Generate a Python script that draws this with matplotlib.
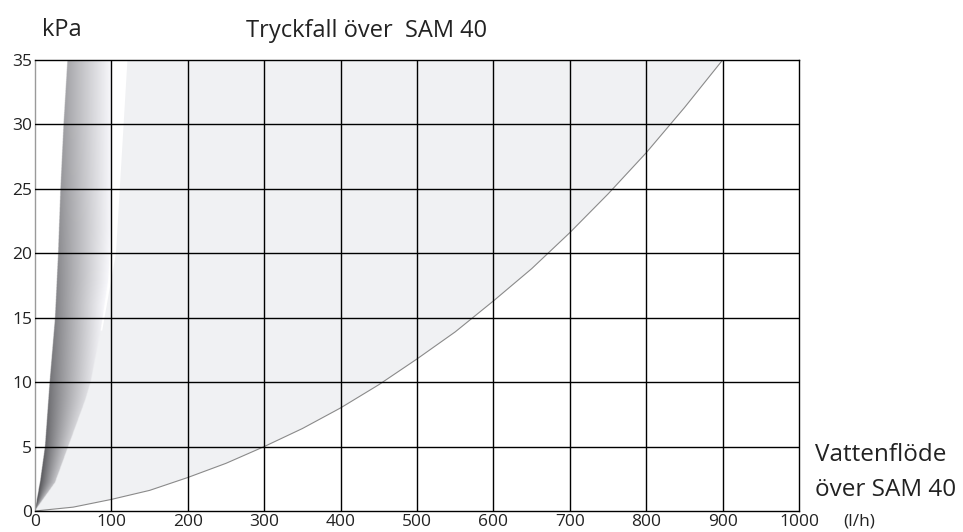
import matplotlib.pyplot as plt
import numpy as np

plt.rcParams['font.family'] = ['Open Sans', 'DejaVu Sans']

# tryckfallskurva
flow = [0, 50, 100, 150, 200, 250, 300, 350, 400, 450, 500, 550, 600, 650, 700, 750, 800, 850, 900]
dp = [0, 0.3, 0.9, 1.6, 2.6, 3.7, 5.0, 6.4, 8.0, 9.8, 11.8, 13.9, 16.3, 18.8, 21.6, 24.6, 27.8, 31.3, 35.0]

# gråtonad "fläkt" vid vänsterkanten
left_y = [0, 2.4, 5, 10, 15, 20, 25, 30, 35]
left_x = [0, 7, 13, 19, 26, 30, 33, 37, 42]
right_y = [0, 2.2, 5, 8.6, 10, 14, 18, 22, 35]
right_x = [0, 26, 43, 65, 72, 85, 95, 99, 99]

# vit glansstrimma (högerkant)
streak_y = [14, 20, 35]
streak_x = [88, 106, 121]

xticks = list(range(0, 1001, 100))
yticks = list(range(0, 36, 5))

fig = plt.figure(figsize=(9.63, 5.32), dpi=100)
ax = fig.add_axes([35/963, 21/532, 764/963, 451/532])

# ljusgrå yta mellan fläkten och kurvan
poly_x = list(right_x) + flow[::-1]
poly_y = list(right_y) + dp[::-1]
ax.fill(poly_x, poly_y, color='#f0f1f3', lw=0, zorder=1)

# vit strimma mellan fläktens kant och strimmans kant
ys = np.linspace(streak_y[0], 35, 40)
sx = list(np.interp(ys, streak_y, streak_x)) + list(np.interp(ys[::-1], right_y, right_x))
sy = list(ys) + list(ys[::-1])
ax.fill(sx, sy, color='white', lw=0, zorder=1.5)

# gradient
gx = np.linspace(0, 110, 600)
gy = np.linspace(0, 35, 600)
X, Y = np.meshgrid(gx, gy)
L = np.interp(Y, left_y, left_x)
R = np.interp(Y, right_y, right_x)
t = np.clip((X - L) / np.maximum(R - L, 1e-6), 0, 1)
dark = 0.22 + 0.43 * (Y / 35) ** 0.5
light = 0.74 + 0.23 * np.clip(Y / 16, 0, 1)
val = dark + (light - dark) * t ** 0.9
img = np.zeros(X.shape + (4,))
img[..., 0] = val
img[..., 1] = val
img[..., 2] = np.clip(val + 0.015, 0, 1)
inside = (X >= L) & (X <= R)
img[..., 3] = inside.astype(float)
ax.imshow(img, extent=[0, 110, 0, 35], origin='lower', aspect='auto',
          interpolation='bilinear', zorder=2)
ax.set_xlim(0, 1000)
ax.set_ylim(0, 35)

ax.plot(flow, dp, color='#8a8a8a', lw=0.8, zorder=3)

for xv in xticks[1:-1]:
    ax.axvline(xv, color='black', lw=1, zorder=4)
for yv in yticks[1:-1]:
    ax.axhline(yv, color='black', lw=1, zorder=4)

ax.set_xticks(xticks)
ax.set_yticks(yticks)
ax.set_xticklabels([str(v) for v in xticks], fontsize=12.5, color='#222222')
ax.set_yticklabels([str(v) for v in yticks], fontsize=12.5, color='#222222')
ax.tick_params(length=0, pad=2)

for s in ['top', 'right', 'bottom']:
    ax.spines[s].set_color('black')
    ax.spines[s].set_linewidth(1)
    ax.spines[s].set_zorder(5)
ax.spines['left'].set_color('#9a9a9a')
ax.spines['left'].set_linewidth(1)

fig.text(42/963, 1 - 30/532, 'kPa', fontsize=17, color='#222222', va='center', ha='left')
fig.text(246/963, 1 - 31/532, 'Tryckfall över  SAM 40', fontsize=17, color='#222222', va='center', ha='left')
fig.text(815/963, 1 - 455/532, 'Vattenflöde', fontsize=17.5, color='#222222', va='center', ha='left')
fig.text(815/963, 1 - 490/532, 'över SAM 40', fontsize=17.5, color='#222222', va='center', ha='left')
fig.text(843/963, 1 - 522/532, '(l/h)', fontsize=12.5, color='#222222', va='center', ha='left')

fig.savefig('out.png', dpi=100)
